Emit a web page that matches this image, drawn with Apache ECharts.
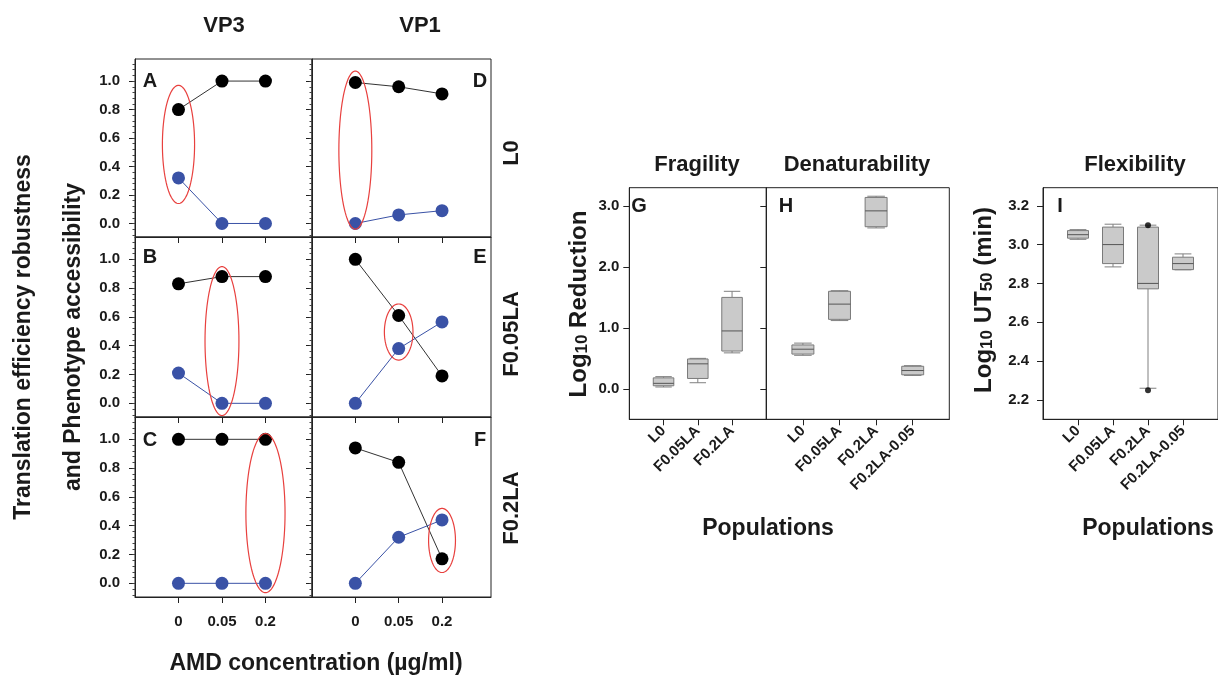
<!DOCTYPE html>
<html>
<head>
<meta charset="utf-8">
<script src="https://cdn.jsdelivr.net/npm/echarts@6/dist/echarts.min.js"></script>
<style>
html,body{margin:0;padding:0;background:#fff;}
#chart{width:1218px;height:679px;}
</style>
</head>
<body>
<div id="chart"></div>
<script>
// ---------------- DATA ----------------
const concLabels = ['0', '0.05', '0.2'];
const concPos = [1, 2, 3];
const yTickLabels = [0, 0.2, 0.4, 0.6, 0.8, 1.0];

// robustness (black) and accessibility (blue)
const vp3_L0_robust = [0.80, 1.00, 1.00];
const vp3_L0_access = [0.32, 0.00, 0.00];
const vp1_L0_robust = [0.99, 0.96, 0.91];
const vp1_L0_access = [0.00, 0.06, 0.09];
const vp3_F005_robust = [0.83, 0.88, 0.88];
const vp3_F005_access = [0.21, 0.00, 0.00];
const vp1_F005_robust = [1.00, 0.61, 0.19];
const vp1_F005_access = [0.00, 0.38, 0.565];
const vp3_F02_robust = [1.00, 1.00, 1.00];
const vp3_F02_access = [0.00, 0.00, 0.00];
const vp1_F02_robust = [0.94, 0.84, 0.17];
const vp1_F02_access = [0.00, 0.32, 0.44];

// highlighted ranges [concentration index, yLow, yHigh, half-width]
const highlightA = [1, 0.14, 0.97, 0.37];
const highlightD = [1, -0.04, 1.07, 0.38];
const highlightB = [2, -0.085, 0.95, 0.39];
const highlightE = [2, 0.30, 0.69, 0.33];
const highlightC = [3, -0.065, 1.04, 0.45];
const highlightF = [3, 0.075, 0.52, 0.31];

// box plots: [position, min, q1, median, q3, max]
const popsG = ['L0', 'F0.05LA', 'F0.2LA'];
const popsHI = ['L0', 'F0.05LA', 'F0.2LA', 'F0.2LA-0.05'];
const fragility = [
  [1, 0.03, 0.05, 0.09, 0.18, 0.20],
  [2, 0.10, 0.17, 0.41, 0.49, 0.50],
  [3, 0.59, 0.62, 0.95, 1.50, 1.60]
];
const denaturability = [
  [1, 0.55, 0.57, 0.65, 0.72, 0.75],
  [2, 1.12, 1.14, 1.39, 1.60, 1.61],
  [3, 2.64, 2.66, 2.92, 3.14, 3.16],
  [4, 0.22, 0.23, 0.30, 0.37, 0.38]
];
const flexibility = [
  [1, 3.027, 3.033, 3.051, 3.072, 3.077],
  [2, 2.885, 2.902, 3.000, 3.090, 3.105],
  [3, 2.26, 2.772, 2.800, 3.090, 3.10],
  [4, 2.870, 2.871, 2.902, 2.935, 2.952]
];
const flexibilityPoints = [[3, 3.10], [3, 2.25]];
const yTicksG = [0, 1, 2, 3];
const yTicksI = [2.2, 2.4, 2.6, 2.8, 3.0, 3.2];

// ---------------- STYLE ----------------
const FONT = "'Liberation Sans', Arial, Helvetica, sans-serif";
const TXT = '#1a1a1a';
const AX = '#222';
const BLUE = '#3a52a6';
const RED = '#e8403e';

const minorTicks = [];
for (let v = -0.08; v <= 1.13; v += 0.04) minorTicks.push(+v.toFixed(2));

const panels = [
  {rect: [135, 59, 177, 178], xmax: 4.07, black: vp3_L0_robust, blue: vp3_L0_access, hl: highlightA, yl: true, xl: false},
  {rect: [312, 59, 179, 178], xmax: 4.13, black: vp1_L0_robust, blue: vp1_L0_access, hl: highlightD, yl: false, xl: false},
  {rect: [135, 237, 177, 180], xmax: 4.07, black: vp3_F005_robust, blue: vp3_F005_access, hl: highlightB, yl: true, xl: false},
  {rect: [312, 237, 179, 180], xmax: 4.13, black: vp1_F005_robust, blue: vp1_F005_access, hl: highlightE, yl: false, xl: false},
  {rect: [135, 417, 177, 180], xmax: 4.07, black: vp3_F02_robust, blue: vp3_F02_access, hl: highlightC, yl: true, xl: true},
  {rect: [312, 417, 179, 180], xmax: 4.13, black: vp1_F02_robust, blue: vp1_F02_access, hl: highlightF, yl: false, xl: true}
];

const grids = [], xAxes = [], yAxes = [], series = [];

function renderEllipse(params, api) {
  const cx = api.value(0), lo = api.value(1), hi = api.value(2), rxu = api.value(3);
  const top = api.coord([cx, hi]), bot = api.coord([cx, lo]);
  const rx = api.size([rxu, 0])[0];
  const cy = (top[1] + bot[1]) / 2, ry = (bot[1] - top[1]) / 2;
  const pts = [];
  for (let k = 0; k < 90; k++) {
    const t = k / 90 * 2 * Math.PI;
    pts.push([top[0] + rx * Math.cos(t), cy + ry * Math.sin(t)]);
  }
  return {type: 'polygon', shape: {points: pts}, style: {fill: 'none', stroke: RED, lineWidth: 1.2}};
}

function renderBox(params, api) {
  const x = api.value(0);
  const p = [1, 2, 3, 4, 5].map(i => api.coord([x, api.value(i)]));
  const w = api.size([0.6, 0])[0];
  const cx = p[0][0], h = w / 2, c = w * 0.4;
  const ls = {stroke: '#808080', lineWidth: 1};
  return {type: 'group', children: [
    {type: 'line', shape: {x1: cx, y1: p[4][1], x2: cx, y2: p[3][1]}, style: ls},
    {type: 'line', shape: {x1: cx, y1: p[1][1], x2: cx, y2: p[0][1]}, style: ls},
    {type: 'line', shape: {x1: cx - c, y1: p[4][1], x2: cx + c, y2: p[4][1]}, style: ls},
    {type: 'line', shape: {x1: cx - c, y1: p[0][1], x2: cx + c, y2: p[0][1]}, style: ls},
    {type: 'rect', shape: {x: cx - h, y: p[3][1], width: w, height: p[1][1] - p[3][1]}, style: {fill: '#cacaca', stroke: '#7a7a7a', lineWidth: 1}},
    {type: 'line', shape: {x1: cx - h, y1: p[2][1], x2: cx + h, y2: p[2][1]}, style: {stroke: '#555', lineWidth: 1}}
  ]};
}

panels.forEach((pn, i) => {
  grids.push({left: pn.rect[0], top: pn.rect[1], width: pn.rect[2], height: pn.rect[3],
    show: true, borderColor: AX, borderWidth: 1, backgroundColor: 'transparent'});
  xAxes.push({
    type: 'value', gridIndex: i, min: 0, max: pn.xmax, position: 'bottom',
    axisLine: {show: true, onZero: false, lineStyle: {color: AX, width: 1}},
    axisTick: {show: true, customValues: concPos, length: 6, inside: false, lineStyle: {color: AX}},
    axisLabel: {show: pn.xl, customValues: concPos, margin: 17,
      formatter: v => concLabels[Math.round(v) - 1] || '',
      fontFamily: FONT, fontWeight: 'bold', fontSize: 15, color: TXT},
    splitLine: {show: false}
  });
  const yi = yAxes.length;
  yAxes.push({
    type: 'value', gridIndex: i, min: -0.095, max: 1.155, position: 'left',
    axisLine: {show: true, onZero: false, lineStyle: {color: AX, width: 1}},
    axisTick: {show: true, customValues: yTickLabels, length: 6, lineStyle: {color: AX}},
    axisLabel: {show: pn.yl, customValues: yTickLabels, margin: 15,
      formatter: v => v.toFixed(1),
      fontFamily: FONT, fontWeight: 'bold', fontSize: 15, color: TXT},
    splitLine: {show: false}
  });
  yAxes.push({
    type: 'value', gridIndex: i, min: -0.095, max: 1.155, position: 'left', offset: 0,
    axisLine: {show: false, onZero: false},
    axisTick: {show: true, customValues: minorTicks, length: 2.5, lineStyle: {color: '#444'}},
    axisLabel: {show: false},
    splitLine: {show: false}
  });
  series.push({
    type: 'line', xAxisIndex: i, yAxisIndex: yi,
    data: concPos.map((x, k) => [x, pn.black[k]]),
    symbol: 'circle', symbolSize: 13, itemStyle: {color: '#000'},
    lineStyle: {color: '#333', width: 1}, z: 3, animation: false
  });
  series.push({
    type: 'line', xAxisIndex: i, yAxisIndex: yi,
    data: concPos.map((x, k) => [x, pn.blue[k]]),
    symbol: 'circle', symbolSize: 13, itemStyle: {color: BLUE},
    lineStyle: {color: BLUE, width: 1}, z: 3, animation: false
  });
  series.push({
    type: 'custom', xAxisIndex: i, yAxisIndex: yi,
    data: [pn.hl], renderItem: renderEllipse, z: 4, animation: false, silent: true
  });
});

// Box plot panels
const boxPanels = [
  {rect: [629.3, 187.7, 137, 231.6], xmax: 4, ymin: -0.5, ymax: 3.3, ticks: yTicksG, cats: popsG, data: fragility, yl: true, lm: 10},
  {rect: [766.3, 187.7, 183, 231.6], xmax: 5, ymin: -0.5, ymax: 3.3, ticks: yTicksG, cats: popsHI, data: denaturability, yl: false, lm: 10},
  {rect: [1043, 187.7, 184.5, 231.6], xmax: 5, ymin: 2.1, ymax: 3.293, ticks: yTicksI, cats: popsHI, data: flexibility, yl: true, lm: 14}
];
boxPanels.forEach((bp) => {
  const gi = grids.length;
  grids.push({left: bp.rect[0], top: bp.rect[1], width: bp.rect[2], height: bp.rect[3],
    show: true, borderColor: AX, borderWidth: 1, backgroundColor: 'transparent'});
  const pos = bp.cats.map((c, k) => k + 1);
  xAxes.push({
    type: 'value', gridIndex: gi, min: 0, max: bp.xmax, position: 'bottom',
    axisLine: {show: true, onZero: false, lineStyle: {color: AX}},
    axisTick: {show: true, customValues: pos, length: 6, lineStyle: {color: AX}},
    axisLabel: {show: true, customValues: pos, rotate: 45, margin: 9,
      formatter: v => bp.cats[Math.round(v) - 1] || '',
      fontFamily: FONT, fontWeight: 'bold', fontSize: 15, color: TXT},
    splitLine: {show: false}
  });
  const yi = yAxes.length;
  yAxes.push({
    type: 'value', gridIndex: gi, min: bp.ymin, max: bp.ymax, position: 'left',
    axisLine: {show: true, onZero: false, lineStyle: {color: AX}},
    axisTick: {show: true, customValues: bp.ticks, length: 6, lineStyle: {color: AX}},
    axisLabel: {show: bp.yl, customValues: bp.ticks, margin: bp.lm,
      formatter: v => v.toFixed(1),
      fontFamily: FONT, fontWeight: 'bold', fontSize: 15, color: TXT},
    splitLine: {show: false}
  });
  series.push({
    type: 'custom', xAxisIndex: xAxes.length - 1, yAxisIndex: yi,
    data: bp.data, renderItem: renderBox, animation: false, silent: true
  });
  if (bp.data === flexibility) {
    series.push({
      type: 'scatter', xAxisIndex: xAxes.length - 1, yAxisIndex: yi,
      data: flexibilityPoints, symbolSize: 6, itemStyle: {color: '#000'}, z: 5, animation: false
    });
  }
});

// ---------------- TEXT ----------------
function txt(text, x, y, size, rot, extra) {
  return Object.assign({
    type: 'text', x: x, y: y, rotation: rot || 0, silent: true, z: 10,
    style: {text: text, fill: TXT, font: 'bold ' + size + 'px ' + FONT, align: 'center', verticalAlign: 'middle'}
  }, extra || {});
}
const R = Math.PI / 2;
const graphics = [
  txt('VP3', 224, 26, 22),
  txt('VP1', 420, 26, 22),
  txt('Translation efficiency robustness', 24, 337, 23, R),
  txt('and Phenotype accessibility', 74, 337, 23, R),
  txt('AMD concentration (µg/ml)', 316, 664, 23),
  txt('L0', 512, 153, 22, R),
  txt('F0.05LA', 512, 334, 22, R),
  txt('F0.2LA', 512, 508, 22, R),
  txt('A', 150, 81, 20), txt('D', 480, 81, 20),
  txt('B', 150, 257, 20), txt('E', 480, 257, 20),
  txt('C', 150, 440, 20), txt('F', 480, 440, 20),
  txt('G', 639, 206, 20), txt('H', 786, 206, 20), txt('I', 1060, 206, 20),
  txt('Fragility', 697, 165, 22),
  txt('Denaturability', 857, 165, 22),
  txt('Flexibility', 1135, 165, 22),
  txt('Populations', 768, 529, 23),
  txt('Populations', 1148, 529, 23),
  {
    type: 'text', x: 576, y: 304, rotation: R, silent: true, z: 10,
    style: {
      text: '{a|Log}{s|10}{a| Reduction}', align: 'center', verticalAlign: 'middle',
      rich: {
        a: {font: 'bold 24px ' + FONT, fill: TXT, verticalAlign: 'bottom', lineHeight: 30},
        s: {font: 'bold 17px ' + FONT, fill: TXT, verticalAlign: 'bottom', lineHeight: 30, padding: [10, 0, 0, 0]}
      }
    }
  },
  {
    type: 'text', x: 981, y: 300, rotation: R, silent: true, z: 10,
    style: {
      text: '{a|Log}{s|10}{a| UT}{s|50}{a| (min)}', align: 'center', verticalAlign: 'middle',
      rich: {
        a: {font: 'bold 24px ' + FONT, fill: TXT, verticalAlign: 'bottom', lineHeight: 30},
        s: {font: 'bold 17px ' + FONT, fill: TXT, verticalAlign: 'bottom', lineHeight: 30, padding: [10, 0, 0, 0]}
      }
    }
  }
];

const chart = echarts.init(document.getElementById('chart'), null, {renderer: 'canvas'});
chart.setOption({
  animation: false,
  backgroundColor: '#fff',
  grid: grids, xAxis: xAxes, yAxis: yAxes, series: series,
  graphic: graphics
});
</script>
</body>
</html>
